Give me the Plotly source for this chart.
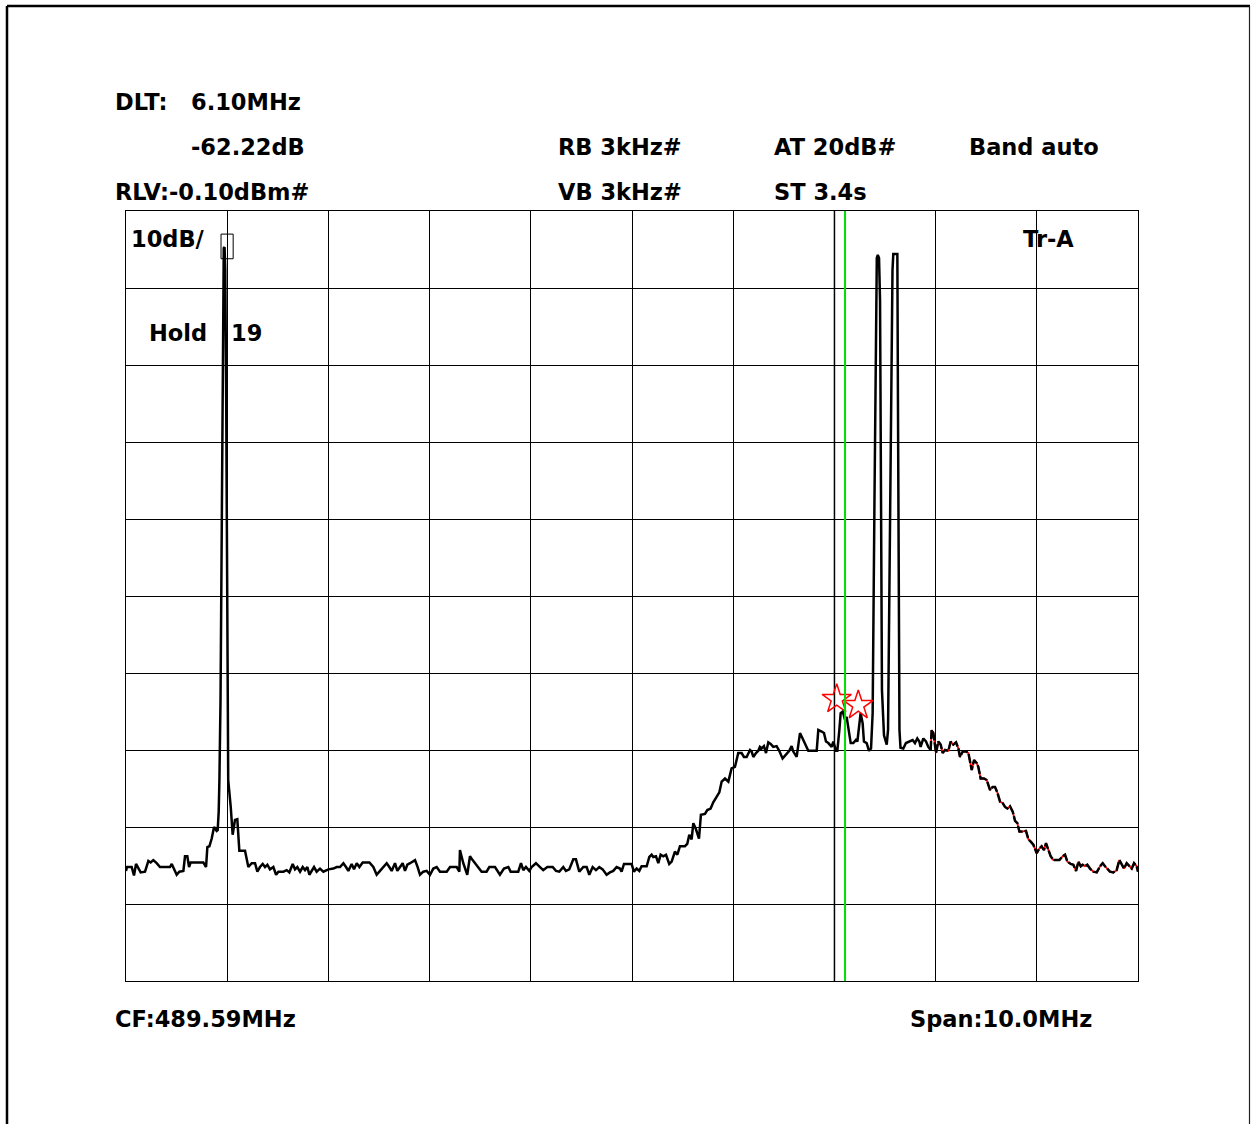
import plotly.graph_objects as go

# ---------------- data ----------------
freq_mhz = [
    484.590, 484.600, 484.646, 484.669, 484.689, 484.712, 484.735, 484.778, 484.811, 484.834,
    484.860, 484.893, 484.926, 485.025, 485.042, 485.091, 485.117, 485.157, 485.173, 485.196,
    485.213, 485.229, 485.354, 485.381, 485.394, 485.414, 485.437, 485.460, 485.486, 485.496,
    485.506, 485.513, 485.524, 485.534, 485.543, 485.550, 485.556, 485.564, 485.571, 485.580,
    485.587, 485.595, 485.600, 485.625, 485.644, 485.667, 485.690, 485.710, 485.766, 485.799,
    485.832, 485.865, 485.888, 485.914, 485.941, 485.964, 485.987, 486.013, 486.046, 486.073,
    486.096, 486.145, 486.178, 486.204, 486.237, 486.260, 486.283, 486.310, 486.336, 486.359,
    486.382, 486.402, 486.425, 486.448, 486.474, 486.507, 486.540, 486.590, 486.639, 486.672,
    486.705, 486.738, 486.764, 486.787, 486.820, 486.843, 486.870, 486.896, 486.929, 486.995,
    487.034, 487.067, 487.100, 487.133, 487.166, 487.192, 487.215, 487.248, 487.271, 487.298,
    487.324, 487.347, 487.370, 487.397, 487.446, 487.472, 487.495, 487.528, 487.561, 487.594,
    487.627, 487.660, 487.693, 487.759, 487.792, 487.858, 487.884, 487.890, 487.923, 487.962,
    487.989, 488.015, 488.038, 488.071, 488.104, 488.153, 488.180, 488.236, 488.285, 488.325,
    488.368, 488.391, 488.466, 488.493, 488.516, 488.542, 488.575, 488.598, 488.641, 488.681,
    488.713, 488.753, 488.806, 488.839, 488.872, 488.911, 488.937, 488.970, 489.010, 489.036,
    489.069, 489.109, 489.142, 489.168, 489.201, 489.234, 489.267, 489.300, 489.339, 489.372,
    489.405, 489.438, 489.471, 489.487, 489.511, 489.586, 489.609, 489.636, 489.662, 489.685,
    489.735, 489.761, 489.784, 489.800, 489.827, 489.850, 489.873, 489.899, 489.926, 489.958,
    489.982, 490.014, 490.038, 490.064, 490.113, 490.136, 490.156, 490.179, 490.196, 490.222,
    490.252, 490.271, 490.311, 490.334, 490.367, 490.393, 490.426, 490.453, 490.476, 490.509,
    490.542, 490.558, 490.574, 490.607, 490.640, 490.673, 490.696, 490.723, 490.756, 490.772,
    490.789, 490.815, 490.838, 490.854, 490.871, 490.894, 490.914, 490.937, 490.960, 490.986,
    491.019, 491.045, 491.078, 491.111, 491.144, 491.167, 491.184, 491.217, 491.250, 491.276,
    491.299, 491.332, 491.415, 491.431, 491.464, 491.487, 491.507, 491.530, 491.563, 491.579,
    491.606, 491.619, 491.639, 491.652, 491.672, 491.685, 491.695, 491.711, 491.728, 491.751,
    491.777, 491.803, 491.817, 491.836, 491.849, 491.869, 491.882, 491.909, 491.932, 491.952,
    491.968, 491.986, 491.999, 492.009, 492.019, 492.031, 492.041, 492.050, 492.060, 492.080,
    492.107, 492.120, 492.134, 492.149, 492.164, 492.172, 492.212, 492.218, 492.226, 492.233,
    492.243, 492.271, 492.297, 492.330, 492.363, 492.386, 492.409, 492.429, 492.442, 492.469,
    492.495, 492.518, 492.541, 492.551, 492.568, 492.594, 492.617, 492.640, 492.660, 492.683,
    492.716, 492.739, 492.765, 492.792, 492.815, 492.831, 492.858, 492.891, 492.914, 492.930,
    492.947, 492.970, 492.996, 493.012, 493.035, 493.068, 493.095, 493.128, 493.154, 493.177,
    493.200, 493.227, 493.253, 493.276, 493.299, 493.325, 493.352, 493.375, 493.398, 493.418,
    493.441, 493.483, 493.507, 493.530, 493.556, 493.589, 493.615, 493.638, 493.661, 493.681,
    493.704, 493.727, 493.754, 493.786, 493.813, 493.846, 493.869, 493.892, 493.925, 493.951,
    493.978, 494.001, 494.024, 494.043, 494.066, 494.089, 494.116, 494.149, 494.182, 494.215,
    494.241, 494.264, 494.287, 494.313, 494.346, 494.379, 494.406, 494.429, 494.452, 494.478,
    494.505, 494.528, 494.551, 494.577, 494.590,
]

level_dbm = [
    -85.8, -85.3, -85.3, -86.4, -84.9, -85.5, -86.0, -85.9, -84.5, -84.7,
    -84.4, -84.8, -85.3, -85.3, -84.9, -86.3, -85.9, -85.8, -83.9, -83.9,
    -85.3, -84.7, -84.7, -85.3, -82.7, -82.6, -81.6, -80.1, -80.6, -80.5,
    -78.1, -74.0, -63.6, -45.4, -24.6, -10.4, -4.9, -4.8, -7.8, -24.6,
    -45.4, -63.6, -74.0, -77.5, -81.1, -79.2, -79.1, -83.2, -83.2, -85.3,
    -84.8, -84.8, -85.9, -85.3, -84.9, -85.3, -85.0, -85.6, -85.3, -86.3,
    -85.9, -85.9, -85.7, -86.0, -84.9, -85.6, -85.3, -85.9, -85.3, -85.7,
    -85.3, -86.3, -85.7, -85.3, -85.9, -85.5, -85.9, -85.6, -85.5, -85.3,
    -85.3, -84.8, -85.3, -85.8, -84.9, -85.6, -84.8, -85.3, -84.7, -84.7,
    -85.3, -86.3, -85.8, -85.3, -84.8, -85.3, -85.8, -84.8, -85.8, -85.3,
    -84.8, -85.8, -85.0, -84.8, -84.4, -85.3, -86.3, -85.9, -85.8, -86.3,
    -85.5, -85.3, -85.9, -85.9, -85.3, -85.3, -85.9, -83.1, -84.8, -86.3,
    -83.9, -84.4, -84.8, -85.3, -85.9, -85.9, -85.3, -85.3, -86.3, -85.5,
    -85.3, -85.9, -85.9, -84.8, -85.7, -85.3, -85.8, -85.3, -84.8, -85.3,
    -85.7, -85.3, -85.3, -85.8, -85.9, -85.3, -85.8, -85.6, -84.3, -84.3,
    -85.9, -85.3, -85.3, -86.3, -85.3, -85.7, -85.3, -85.6, -86.3, -86.0,
    -85.8, -85.3, -85.5, -85.9, -84.9, -84.9, -85.9, -85.5, -85.8, -85.2,
    -85.2, -84.0, -83.7, -84.0, -83.9, -84.8, -83.7, -83.9, -83.7, -84.9,
    -84.6, -83.3, -83.7, -82.6, -82.6, -82.3, -81.1, -81.7, -79.6, -80.4,
    -81.6, -78.5, -78.4, -77.9, -77.7, -76.9, -76.2, -75.6, -74.2, -73.8,
    -74.2, -73.1, -72.5, -72.3, -70.5, -70.5, -71.0, -71.0, -70.1, -70.3,
    -71.0, -70.5, -70.2, -69.7, -69.9, -69.6, -70.5, -69.1, -69.3, -69.7,
    -69.6, -70.2, -71.2, -70.7, -70.2, -69.6, -70.3, -71.0, -67.9, -68.6,
    -69.2, -70.2, -70.2, -67.5, -67.7, -67.9, -69.0, -69.2, -69.7, -69.0,
    -70.2, -70.2, -67.5, -65.3, -65.1, -65.8, -66.2, -65.8, -67.5, -69.2,
    -69.2, -68.8, -69.0, -67.1, -65.3, -66.6, -69.0, -69.2, -70.2, -69.9,
    -65.3, -37.6, -11.7, -6.2, -5.8, -6.2, -11.7, -37.6, -62.3, -68.2,
    -69.4, -67.5, -50.6, -24.6, -7.8, -5.7, -5.7, -24.6, -50.6, -67.5,
    -69.8, -69.9, -69.2, -69.0, -68.8, -69.2, -68.6, -69.0, -69.7, -68.6,
    -69.0, -69.7, -70.1, -67.5, -67.9, -70.5, -69.0, -69.4, -70.5, -70.1,
    -70.2, -69.0, -69.4, -69.1, -69.9, -71.0, -70.3, -70.3, -70.5, -71.6,
    -72.7, -71.4, -71.8, -72.3, -73.8, -73.8, -74.0, -75.3, -74.9, -74.9,
    -75.6, -76.8, -77.0, -77.5, -77.7, -77.4, -78.1, -79.3, -79.6, -80.7,
    -80.7, -80.6, -81.7, -82.0, -82.4, -83.5, -82.9, -82.6, -83.1, -82.2,
    -83.1, -83.9, -84.4, -84.4, -84.4, -83.9, -83.7, -84.6, -84.9, -85.0,
    -85.8, -84.6, -85.2, -85.0, -85.2, -85.0, -85.5, -85.9, -86.0, -85.2,
    -84.8, -85.2, -85.5, -85.9, -86.0, -85.7, -84.4, -85.0, -85.5, -84.8,
    -85.2, -85.5, -84.8, -85.2, -85.9,
]

center_freq = 489.59      # MHz
span = 10.0               # MHz
ref_level = -0.10         # dBm
db_per_div = 10

red_start_freq = 492.541  # where the red underlying trace becomes visible
star_freq = [491.613, 491.826]
star_level = [-63.5, -64.3]
delta_marker_freq = 485.589
delta_marker_level = -4.7
green_line_freq = 491.695
marker_grid_freq = 491.59  # grey vertical reference line

# ---------------- figure ----------------
W, H = 1251, 1124
L, R, T, B = 126, 1138, 211, 981
x0, x1 = center_freq - span / 2, center_freq + span / 2
y1, y0 = ref_level, ref_level - 10 * db_per_div


def xp(px):
    return (px - L) / (R - L)


def yp(py):
    return (B - py) / (B - T)


fig = go.Figure()

red_idx = [i for i, f in enumerate(freq_mhz) if f >= red_start_freq]
rf = [freq_mhz[i] for i in red_idx]
rl = [level_dbm[i] for i in red_idx]
fig.add_trace(go.Scatter(x=rf, y=rl, mode="lines",
                         line=dict(color="#ff0000", width=1.8), hoverinfo="skip"))

k = red_idx[0]
fig.add_trace(go.Scatter(x=freq_mhz[:k + 1], y=level_dbm[:k + 1], mode="lines",
                         line=dict(color="#000000", width=2.5)))
fig.add_trace(go.Scatter(x=freq_mhz[k:], y=level_dbm[k:], mode="lines",
                         line=dict(color="#000000", width=2.5, dash="9px,2px")))

fig.add_trace(go.Scatter(x=star_freq, y=star_level, mode="markers",
                         marker=dict(symbol="star-open", size=22, color="#ff0000",
                                     line=dict(color="#ff0000", width=1.5))))

shapes = []
# grey reference line (between grid and traces)
shapes.append(dict(type="line", xref="x", yref="paper", x0=marker_grid_freq, x1=marker_grid_freq,
                   y0=0, y1=1, line=dict(color="#808080", width=2), layer="between"))
# green marker line
shapes.append(dict(type="line", xref="x", yref="paper", x0=green_line_freq, x1=green_line_freq,
                   y0=0, y1=1, line=dict(color="#00e000", width=2), layer="above"))
# delta marker box
shapes.append(dict(type="rect", xref="x", yref="y",
                   x0=delta_marker_freq - 0.06, x1=delta_marker_freq + 0.06,
                   y0=delta_marker_level - 1.6, y1=delta_marker_level + 1.6,
                   line=dict(color="#000000", width=1), layer="above"))
# outer frame
shapes.append(dict(type="line", xref="paper", yref="paper", x0=xp(7), x1=xp(1250),
                   y0=yp(6), y1=yp(6), line=dict(color="#000000", width=2.5)))
shapes.append(dict(type="line", xref="paper", yref="paper", x0=xp(7), x1=xp(7),
                   y0=yp(6), y1=yp(1130), line=dict(color="#000000", width=2.5)))
shapes.append(dict(type="line", xref="paper", yref="paper", x0=xp(1249.5), x1=xp(1249.5),
                   y0=yp(6), y1=yp(1130), line=dict(color="#222222", width=1.2)))

texts = [
    ("DLT:", 115, 102), ("6.10MHz", 191, 102),
    ("-62.22dB", 191, 147), ("RLV:-0.10dBm#", 115, 192),
    ("RB 3kHz#", 558, 147), ("VB 3kHz#", 558, 192),
    ("AT 20dB#", 774, 147), ("ST 3.4s", 774, 192),
    ("Band auto", 969, 147),
    ("10dB/", 131, 239), ("Tr-A", 1023, 239),
    ("Hold", 149, 333), ("19", 231, 333),
    ("CF:489.59MHz", 115, 1019), ("Span:10.0MHz", 910, 1019),
]
annotations = []
for txt, px, py in texts:
    annotations.append(dict(text=txt, xref="paper", yref="paper", x=xp(px - 2), y=yp(py),
                            xanchor="left", yanchor="middle", showarrow=False,
                            font=dict(family="DejaVu Sans", size=22.5, color="#000000",
                                      weight="bold")))

fig.update_layout(
    width=W, height=H,
    margin=dict(l=L, r=W - R, t=T, b=H - B, pad=0),
    paper_bgcolor="white", plot_bgcolor="white",
    showlegend=False,
    shapes=shapes, annotations=annotations,
    xaxis=dict(range=[x0, x1], tick0=x0, dtick=span / 10, showgrid=True,
               gridcolor="#000000", gridwidth=1, showticklabels=False, ticks="",
               zeroline=False, showline=True, linecolor="#000000", linewidth=1, mirror=True),
    yaxis=dict(range=[y0, y1], tick0=y1, dtick=db_per_div, showgrid=True,
               gridcolor="#000000", gridwidth=1, showticklabels=False, ticks="",
               zeroline=False, showline=True, linecolor="#000000", linewidth=1, mirror=True),
)

fig.write_html("out.html")
